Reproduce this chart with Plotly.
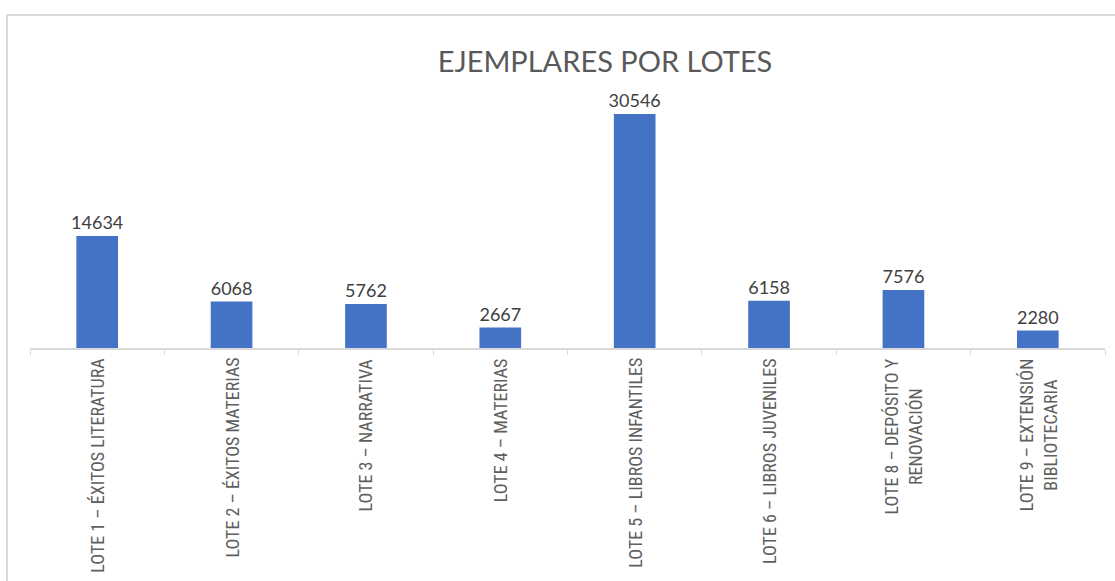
import plotly.graph_objects as go

lotes = [
    "LOTE 1 – ÉXITOS LITERATURA",
    "LOTE 2 – ÉXITOS MATERIAS",
    "LOTE 3 – NARRATIVA",
    "LOTE 4 – MATERIAS",
    "LOTE 5 – LIBROS INFANTILES",
    "LOTE 6 – LIBROS JUVENILES",
    "LOTE 8 – DEPÓSITO Y<br>RENOVACIÓN",
    "LOTE 9 – EXTENSIÓN<br>BIBLIOTECARIA",
]
ejemplares = [14634, 6068, 5762, 2667, 30546, 6158, 7576, 2280]

W, H = 1115, 581
left, right, top, bottom = 30, 10, 80, 233
plot_w = W - left - right
plot_h = H - top - bottom

fig = go.Figure()
fig.add_trace(
    go.Bar(
        x=lotes,
        y=ejemplares,
        marker={"color": "#4472C4", "line": {"width": 0}},
        width=0.31,
        text=[str(v) for v in ejemplares],
        textposition="outside",
        constraintext="none",
        textfont={"family": "Lato, Open Sans, sans-serif", "size": 18, "color": "#404040"},
        cliponaxis=False,
    )
)

# category labels as rotated annotations so multi-line ones stay centred
for lote in lotes:
    fig.add_annotation(
        x=lote,
        y=0,
        xref="x",
        yref="y",
        text=lote,
        textangle=-90,
        showarrow=False,
        xanchor="center",
        yanchor="top",
        yshift=-8,
        align="center",
        font={"family": "Liberation Sans Narrow, Roboto Condensed, Roboto, sans-serif", "size": 18, "color": "#5f5f5f"},
    )

# chart frame (cropped screenshot: only left and top edges visible)
px = lambda x: (x - left) / plot_w
py = lambda y: (H - bottom - y) / plot_h
frame = {"color": "#d9d9d9", "width": 2}
fig.add_shape(type="line", xref="paper", yref="paper", x0=px(7), x1=px(7), y0=py(15), y1=py(H + 5), line=frame)
fig.add_shape(type="line", xref="paper", yref="paper", x0=px(7), x1=px(W + 5), y0=py(15), y1=py(15), line=frame)

fig.update_layout(
    width=W,
    height=H,
    margin={"l": left, "r": right, "t": top, "b": bottom, "autoexpand": False},
    paper_bgcolor="white",
    plot_bgcolor="white",
    showlegend=False,
    title={
        "text": "EJEMPLARES POR LOTES",
        "x": 605 / W,
        "xanchor": "center",
        "y": 1 - 62 / H,
        "yanchor": "middle",
        "font": {"family": "Lato, Open Sans, sans-serif", "size": 29, "color": "#595959"},
    },
    xaxis={
        "tickson": "boundaries",
        "ticks": "outside",
        "ticklen": 5,
        "tickcolor": "#d9d9d9",
        "showline": True,
        "linecolor": "#d9d9d9",
        "linewidth": 1.5,
        "showgrid": False,
        "showticklabels": False,
        "automargin": False,
    },
    yaxis={
        "range": [0, 35000],
        "visible": False,
        "showgrid": False,
        "zeroline": False,
    },
)

fig.write_html(
    "out.html",
    config={"displayModeBar": False},
    post_script="document.body.style.margin = '0px';",
)
